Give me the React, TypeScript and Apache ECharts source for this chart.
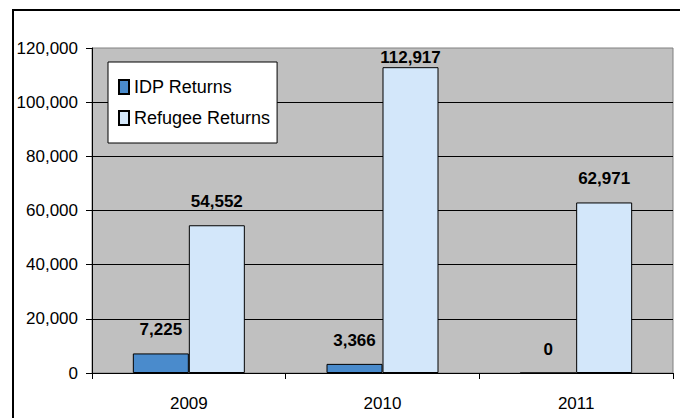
import React, { useEffect, useRef } from "react";
import * as echarts from "echarts";

const categories = ["2009", "2010", "2011"];
const idpReturns = [7225, 3366, 0];
const refugeeReturns = [54552, 112917, 62971];
const seriesNames = ["IDP Returns", "Refugee Returns"];

const FONT = "'Liberation Sans', Arial, sans-serif";

export default function App() {
  const ref = useRef<HTMLDivElement>(null);
  useEffect(() => {
    if (!ref.current) return;
    const chart = echarts.init(ref.current, undefined, { renderer: "svg" });
    const labelBase = {
      show: true,
      position: "top",
      distance: 15,
      color: "#000",
      fontWeight: "bold",
      fontSize: 17,
      fontFamily: FONT,
      formatter: (p: any) => Number(p.value).toLocaleString("en-US"),
    };
    chart.setOption({
      animation: false,
      backgroundColor: "#fff",
      textStyle: { fontFamily: FONT },
      graphic: [
        {
          type: "rect",
          shape: { x: 13, y: 10, width: 700, height: 450 },
          style: { fill: "none", stroke: "#000", lineWidth: 2 },
          z: 100,
        },
      ],
      grid: {
        left: 92,
        top: 48,
        right: 7,
        bottom: 45,
        show: true,
        backgroundColor: "#c0c0c0",
        borderColor: "#808080",
        borderWidth: 1,
      },
      legend: {
        orient: "vertical",
        left: 108,
        top: 62,
        backgroundColor: "#fff",
        borderColor: "#000",
        borderWidth: 1,
        padding: [16, 7, 16, 10],
        itemWidth: 10,
        itemHeight: 14,
        itemGap: 13,
        icon: "rect",
        textStyle: { fontSize: 18, color: "#000", fontFamily: FONT },
        data: seriesNames,
      },
      xAxis: {
        type: "category",
        data: categories,
        axisLine: { show: true, lineStyle: { color: "#000", width: 1 } },
        axisTick: { show: true, length: 6, inside: false, lineStyle: { color: "#000" } },
        axisLabel: { color: "#000", fontSize: 17, margin: 22, fontFamily: FONT },
        splitLine: { show: false },
      },
      yAxis: {
        type: "value",
        min: 0,
        max: 120000,
        interval: 20000,
        axisLine: { show: true, lineStyle: { color: "#000", width: 1 } },
        axisTick: { show: true, length: 6, lineStyle: { color: "#000" } },
        axisLabel: {
          color: "#000",
          fontSize: 17,
          margin: 14,
          fontFamily: FONT,
          formatter: (v: number) => v.toLocaleString("en-US"),
        },
        splitLine: {
          show: true,
          showMaxLine: false,
          lineStyle: { color: "#000", width: 1 },
        },
      },
      series: [
        {
          name: seriesNames[0],
          type: "bar",
          data: idpReturns,
          barWidth: 56,
          barGap: 0,
          itemStyle: { color: "#4a8bcc", borderColor: "#000", borderWidth: 1 },
          label: labelBase,
        },
        {
          name: seriesNames[1],
          type: "bar",
          data: refugeeReturns.map((v, i) =>
            i === 1 ? { value: v, label: { distance: 1 } } : v
          ),
          barWidth: 56,
          barGap: 0,
          itemStyle: { color: "#d3e7fa", borderColor: "#000", borderWidth: 1 },
          label: labelBase,
        },
      ],
    });
    return () => chart.dispose();
  }, []);
  return (
    <div
      ref={ref}
      style={{ position: "fixed", left: 0, top: 0, width: 680, height: 418 }}
    />
  );
}
